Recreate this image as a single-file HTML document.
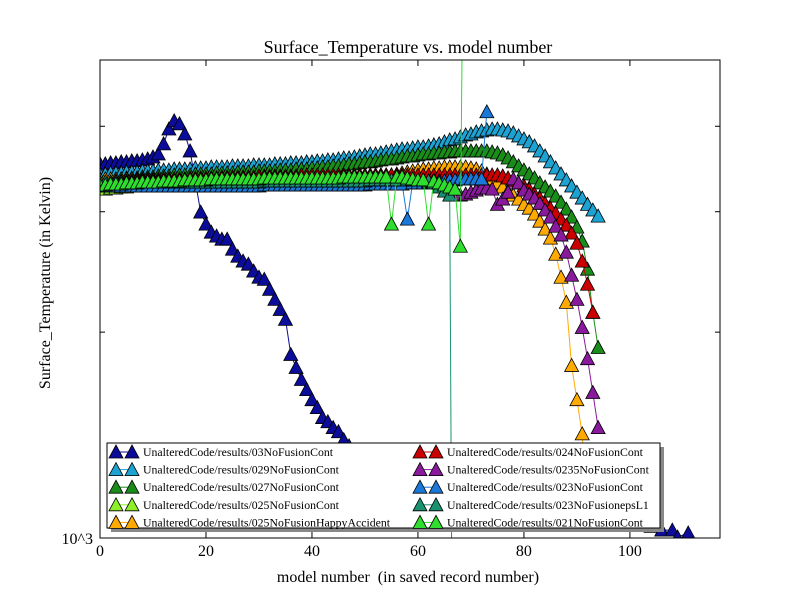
<!DOCTYPE html>
<html><head><meta charset="utf-8"><style>
html,body{margin:0;padding:0;background:#fff;overflow:hidden;width:800px;height:600px;}
svg{display:block;}
svg text{font-family:"Liberation Serif",serif;white-space:pre;}
</style></head><body>
<svg id="chart" width="800" height="600" xmlns="http://www.w3.org/2000/svg">
<defs><clipPath id="pa"><rect x="100" y="60" width="620" height="478"/></clipPath></defs>
<rect x="0" y="0" width="800" height="600" fill="#fff"/>
<text x="408" y="53" font-size="18" text-anchor="middle">Surface_Temperature vs. model number</text>
<text x="408" y="582" font-size="16" text-anchor="middle" xml:space="preserve">model number  (in saved record number)</text>
<text x="50" y="283" font-size="16" text-anchor="middle" transform="rotate(-90 50 283)">Surface_Temperature (in Kelvin)</text>
<g id="ticks"></g>
<g id="series" clip-path="url(#pa)"></g>
<rect x="100" y="60" width="620" height="478" fill="none" stroke="#000" stroke-width="1"/>
<g id="legend"></g>
</svg>
<script>
const models=[0,1,2,3,4,5,6,7,8,9,10,11,12,13,14,15,16,17,18,19,20,21,22,23,24,25,26,27,28,29,30,31,32,33,34,35,36,37,38,39,40,41,42,43,44,45,46,47,48,49,50,51,52,53,54,55,56,57,58,59,60,61,62,63,64,65,66,67,68,69,70,71,72,73,74,75,76,77,78,79,80,81,82,83,84,85,86,87,88,89,90,91,92,93,94];
const xTicks=[0,20,40,60,80,100];
const yTicks=[1000,2000,3000,4000];
const yTickLabels=["10^3","","",""];
const navyX=[0,1,2,3,4,5,6,7,8,9,10,11,12,13,14,15,16,17,18,19,20,21,22,23,24,25,26,27,28,29,30,31,32,33,34,35,36,37,38,39,40,41,42,43,44,45,46,47,55,65,75,85,95,102,104,106,108,109,111];
const navyT=[3524,3524,3536,3536,3548,3548,3560,3560,3571,3583,3607,3644,3770,3963,4074,4033,3897,3681,3316,2996,2877,2800,2763,2735,2735,2644,2582,2540,2514,2456,2406,2389,2310,2233,2159,2088,1855,1776,1705,1648,1593,1551,1500,1479,1450,1430,1392,1364,1323,1258,1196,1137,1081,1045,1040,1027,1027,1003,1017];
const s029T=[3406,3406,3418,3418,3418,3429,3429,3429,3441,3441,3441,3452,3452,3452,3464,3464,3464,3464,3476,3476,3476,3488,3488,3488,3488,3500,3500,3500,3500,3512,3512,3512,3512,3524,3524,3524,3536,3536,3536,3548,3548,3559,3559,3571,3571,3583,3595,3595,3607,3619,3631,3644,3644,3656,3669,3681,3693,3706,3706,3718,3731,3731,3744,3757,3770,3795,3820,3833,3859,3885,3897,3924,3937,3950,3963,3963,3950,3937,3911,3872,3833,3795,3744,3681,3619,3548,3476,3406,3339,3271,3204,3141,3075,3017,2956];
const s027T=[3339,3339,3350,3350,3350,3361,3361,3361,3372,3372,3372,3383,3383,3383,3395,3395,3395,3395,3406,3406,3406,3406,3418,3418,3418,3418,3429,3429,3429,3429,3441,3441,3441,3441,3452,3452,3452,3464,3464,3464,3476,3476,3488,3488,3500,3500,3512,3524,3524,3536,3548,3548,3559,3571,3583,3583,3595,3607,3619,3619,3631,3644,3644,3656,3656,3669,3669,3681,3681,3681,3681,3681,3681,3681,3669,3656,3631,3595,3548,3500,3452,3406,3361,3305,3260,3215,3162,3097,3027,2946,2848,2717,2472,2138,1899];
const s025T=[3237,3237,3248,3248,3260,3260,3271,3271,3282,3282,3293,3293,3293,3305,3305,3305,3316,3316,3316,3327,3327,3327,3339,3339,3339,3339,3350,3350,3350,3350,3361,3361,3361,3361,3361,3372,3372,3372,3372,3372,3383,3383,3383,3383,3383,3383,3383,3383,3383,3383,3383,3395,3395,3395,3395,3395,3395,3395,3395,3395,3395,3383,3372,3361,3339];
const sHappyT=[3350,3350,3350,3350,3350,3350,3350,3350,3350,3350,3350,3350,3350,3350,3350,3350,3350,3350,3350,3350,3350,3361,3361,3361,3361,3361,3361,3361,3361,3361,3361,3361,3361,3361,3361,3361,3361,3361,3361,3361,3361,3361,3361,3361,3361,3361,3383,3383,3383,3383,3383,3383,3383,3383,3383,3383,3406,3418,3429,3441,3452,3464,3464,3476,3476,3488,3488,3488,3488,3488,3476,3464,3441,3406,3350,3305,3260,3215,3172,3130,3075,3036,2976,2906,2829,2745,2600,2406,2211,1788,1593,1420,1063];
const s024T=[3316,3316,3316,3327,3327,3327,3327,3339,3339,3339,3339,3339,3350,3350,3350,3350,3350,3361,3361,3361,3361,3361,3361,3372,3372,3372,3372,3372,3372,3372,3383,3383,3383,3383,3383,3383,3383,3383,3395,3395,3395,3395,3395,3395,3395,3395,3395,3395,3395,3395,3395,3395,3395,3395,3395,3395,3395,3395,3395,3395,3395,3395,3395,3395,3395,3395,3395,3395,3395,3395,3395,3395,3395,3395,3395,3395,3383,3361,3327,3305,3271,3237,3183,3141,3086,3036,2986,2926,2867,2791,2698,2540,2350,2138];
const s0235T=[3305,3305,3305,3305,3305,3305,3305,3305,3305,3305,3305,3305,3305,3305,3305,3305,3305,3305,3305,3305,3305,3316,3316,3316,3316,3316,3316,3316,3316,3316,3316,3316,3316,3316,3316,3316,3316,3316,3316,3316,3316,3327,3327,3327,3327,3327,3327,3327,3327,3327,3327,3327,3327,3327,3327,3327,3327,3327,3327,3327,3327,3327,3327,3339,3300,3260,3237,3204,3172,3183,3204,3226,3248,3248,3237,3075,3130,3204,3350,3305,3226,3183,3141,3086,3017,2946,2857,2773,2618,2422,2233,2032,1829,1632,1450];
const s023T=[3271,3271,3271,3271,3271,3271,3271,3271,3271,3271,3271,3271,3271,3271,3271,3271,3271,3271,3271,3271,3271,3271,3271,3271,3271,3271,3271,3271,3271,3271,3271,3282,3282,3282,3282,3282,3282,3282,3282,3282,3282,3282,3282,3282,3282,3282,3282,3282,3282,3282,3282,3293,3293,3293,3293,3293,3293,3293,2926,3305,3305,3305,3316,3316,3327,3327,3339,3339,3350,3350,3350,3350,3350,4200];
const epsX=[0,1,2,3,4,5,6,7,8,9,10,11,12,13,14,15,16,17,18,19,20,21,22,23,24,25,26,27,28,29,30,31,32,33,34,35,36,37,38,39,40,41,42,43,44,45,46,47,48,49,50,51,52,53,54,55,56,57,58,59,60,61,62,63,64,65,66,66.4];
const epsT=[3316,3316,3316,3316,3316,3316,3316,3316,3316,3316,3316,3316,3316,3316,3316,3316,3316,3316,3316,3316,3316,3316,3316,3316,3316,3316,3316,3316,3316,3316,3316,3327,3327,3327,3327,3327,3327,3327,3327,3327,3327,3327,3327,3327,3327,3327,3327,3327,3327,3327,3327,3339,3339,3339,3339,3339,3339,3339,3339,3339,3339,3339,3327,3305,3260,3215,3172,500];
const s021X=[0,1,2,3,4,5,6,7,8,9,10,11,12,13,14,15,16,17,18,19,20,21,22,23,24,25,26,27,28,29,30,31,32,33,34,35,36,37,38,39,40,41,42,43,44,45,46,47,48,49,50,51,52,53,54,55,56,57,58,59,60,61,62,63,64,65,66,67,68,68.4];
const s021T=[3282,3282,3293,3293,3293,3305,3305,3305,3316,3316,3316,3316,3327,3327,3327,3327,3339,3339,3339,3339,3339,3350,3350,3350,3350,3350,3350,3350,3350,3350,3350,3361,3361,3361,3361,3361,3361,3361,3361,3361,3361,3361,3361,3361,3361,3361,3372,3372,3372,3372,3372,3372,3372,3372,3372,2877,3372,3372,3361,3350,3339,3339,2877,3327,3305,3282,3260,3237,2671,60000];
const seriesNames=["UnalteredCode/results/03NoFusionCont","UnalteredCode/results/029NoFusionCont","UnalteredCode/results/027NoFusionCont","UnalteredCode/results/025NoFusionCont","UnalteredCode/results/025NoFusionHappyAccident","UnalteredCode/results/024NoFusionCont","UnalteredCode/results/0235NoFusionCont","UnalteredCode/results/023NoFusionCont","UnalteredCode/results/023NoFusionepsL1","UnalteredCode/results/021NoFusionCont"];
const seriesColors=["#0c0c9a","#1ea2d2","#1a8c1a","#8ef02a","#ffaa00","#cc0000","#8a1a9c","#1a78d8","#1a9272","#2edd2e"];

const NS="http://www.w3.org/2000/svg";
const X0=100,X1=720,XMAX=117,Y0=538,Y1=60,LMIN=3,LMAX=Math.log10(5000);
function sx(m){return X0+(X1-X0)*m/XMAX;}
function sy(t){return Y0-(Y0-Y1)*(Math.log10(t)-LMIN)/(LMAX-LMIN);}
function cy(y){return Math.max(0,Math.min(600,y));}
function mk(tag,attrs,parent){const e=document.createElementNS(NS,tag);for(const k in attrs)e.setAttribute(k,attrs[k]);parent.appendChild(e);return e;}
function tri(cx,cy){return (cx-7)+","+(cy+6)+" "+(cx+7)+","+(cy+6)+" "+cx+","+(cy-7);}

const tg=document.getElementById('ticks');
xTicks.forEach(v=>{
  const x=sx(v);
  const t1=mk('line',{x1:x,x2:x,y1:Y0,y2:Y0-6,stroke:'#000'},tg);
  
  
  const t2=mk('line',{x1:x,x2:x,y1:Y1,y2:Y1+6,stroke:'#000'},tg);
  
  
  const lb=mk('text',{x:x,y:556,'font-size':16,'text-anchor':'middle'},tg);
  lb.textContent=String(v);
  
  
});
yTicks.forEach((v,i)=>{
  const y=sy(v);
  const t1=mk('line',{x1:X0,x2:X0+5,y1:y,y2:y,stroke:'#000'},tg);
  
  
  const t2=mk('line',{x1:X1,x2:X1-5,y1:y,y2:y,stroke:'#000'},tg);
  
  
  if(yTickLabels[i]){
    const lb=mk('text',{x:93,y:y+6,'font-size':16,'text-anchor':'end'},tg);
    lb.textContent=yTickLabels[i];
    
    
  }
});

const allX=[navyX,models,models,models,models,models,models,models,epsX,s021X];
const allT=[navyT,s029T,s027T,s025T,sHappyT,s024T,s0235T,s023T,epsT,s021T];
const sg=document.getElementById('series');
allT.forEach((ts,si)=>{
  const xs=allX[si];
  const g=mk('g',{},sg);
  
  
  const pts=ts.map((t,i)=>sx(xs[i]).toFixed(1)+","+cy(sy(t)).toFixed(1)).join(" ");
  const pl=mk('polyline',{points:pts,fill:'none',stroke:seriesColors[si],'stroke-width':1},g);
  
  
  ts.forEach((t,i)=>{
    const y=sy(t);
    if(y<40||y>560)return;
    const p=mk('polygon',{points:tri(sx(xs[i]),y),fill:seriesColors[si],stroke:'#000','stroke-width':0.8},g);
    
    
  });
});

const lg=document.getElementById('legend');
mk('rect',{x:111,y:447,width:553,height:85,fill:'#888'},lg);
const box=mk('rect',{x:107,y:443,width:553,height:85,fill:'#fff',stroke:'#000','stroke-width':1},lg);


seriesNames.forEach((n,i)=>{
  const col=Math.floor(i/5),row=i%5;
  const lx=col?420:116, ty=452+row*17.6;
  const g=mk('g',{},lg);
  
  
  mk('line',{x1:lx,x2:lx+16,y1:ty,y2:ty,stroke:seriesColors[i]},g);
  mk('polygon',{points:tri(lx,ty),fill:seriesColors[i],stroke:'#000','stroke-width':0.8},g);
  mk('polygon',{points:tri(lx+16,ty),fill:seriesColors[i],stroke:'#000','stroke-width':0.8},g);
  const t=mk('text',{x:lx+27,y:ty+4,'font-size':11.8},g);
  t.textContent=n;
});
</script>
</body></html>
